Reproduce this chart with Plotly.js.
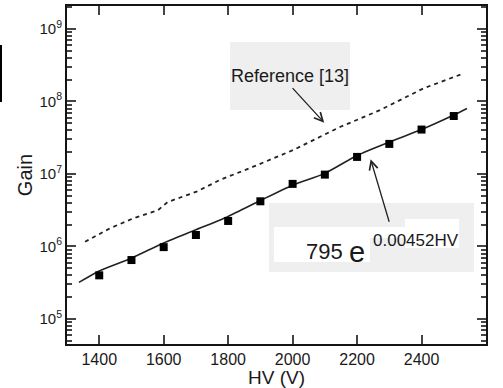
<!DOCTYPE html>
<html>
<head>
<meta charset="utf-8">
<script src="https://cdn.plot.ly/plotly-3.0.1.min.js"></script>
<style>html,body{margin:0;padding:0;background:#fff;}#chart{width:503px;height:388px;}</style>
</head>
<body>
<div id="chart"></div>
<script>
// Measured gain data points
const hv = [1400, 1500, 1600, 1700, 1800, 1900, 2000, 2100, 2200, 2300, 2400, 2500];
const gain = [4.0e5, 6.5e5, 9.8e5, 1.44e6, 2.25e6, 4.2e6, 7.3e6, 9.8e6, 1.72e7, 2.6e7, 4.1e7, 6.3e7];

// Fit curve
const fitHV = [1337, 1400, 1500, 1600, 1700, 1800, 1900, 2000, 2100, 2200, 2300, 2400, 2500, 2541];
const fitGain = [3.2e5, 4.6e5, 6.9e5, 1.12e6, 1.7e6, 2.6e6, 4.3e6, 7.0e6, 1.02e7, 1.8e7, 2.76e7, 4.1e7, 6.5e7, 8.0e7];

// Reference [13] curve
const refHV = [1356, 1433, 1506, 1583, 1612, 1702, 1775, 1878, 2002, 2095, 2147, 2199, 2271, 2405, 2525];
const refGain = [1.16e6, 1.78e6, 2.45e6, 3.18e6, 4.1e6, 5.7e6, 8.3e6, 1.26e7, 2.14e7, 3.45e7, 4.45e7, 5.56e7, 7.6e7, 1.51e8, 2.39e8];

const xTickVals = [1400, 1600, 1800, 2000, 2200, 2400, 2600];
const yTickVals = [1e5, 1e6, 1e7, 1e8, 1e9];
const yTickText = ['10<sup>5</sup>', '10<sup>6</sup>', '10<sup>7</sup>', '10<sup>8</sup>', '10<sup>9</sup>'];
const yMinorVals = [];
[4, 5, 6, 7, 8, 9].forEach(e => { for (let d = 2; d <= 9; d++) yMinorVals.push(d * Math.pow(10, e)); });

const W = 503, H = 388;
const L = 67, R = 486, T = 6, B = 344;
const px = x => (x - L) / (R - L);
const py = y => (B - y) / (B - T);
const FONT = 'Liberation Sans, Arial, Helvetica, sans-serif';
const NARROW = 'Liberation Sans Narrow, Arial Narrow, Liberation Sans, Arial, sans-serif';
const INK = '#1a1a1a';
const TICK = '#444444';
const LINE = '#141414';

const traces = [
  {x: refHV, y: refGain, mode: 'lines', line: {color: '#222', width: 1.8, dash: '4px,4px'}, hoverinfo: 'skip'},
  {x: fitHV, y: fitGain, mode: 'lines', line: {color: '#222', width: 1.6, shape: 'spline', smoothing: 0.6}, hoverinfo: 'skip'},
  {x: hv, y: gain, mode: 'markers', marker: {symbol: 'square', size: 8, color: '#000'}}
];

const rect = (x0, y0, x1, y1, color) => ({type: 'rect', xref: 'paper', yref: 'paper', x0: px(x0), x1: px(x1), y0: py(y1), y1: py(y0), fillcolor: color, line: {width: 0}, layer: 'below'});

const layout = {
  width: W, height: H,
  margin: {l: L, r: W - R, t: T, b: H - B},
  paper_bgcolor: '#fff', plot_bgcolor: '#fff',
  showlegend: false,
  font: {family: FONT, color: INK},
  xaxis: {
    range: [1300, 2600], tickmode: 'array', tickvals: xTickVals, ticks: 'inside', ticklen: 9, tickwidth: 2, tickcolor: TICK,
    showline: true, linewidth: 2, linecolor: LINE, mirror: 'allticks', showgrid: false, zeroline: false, layer: 'above traces',
    tickfont: {size: 16, family: FONT, color: INK},
    title: {text: 'HV (V)', font: {size: 19, family: FONT, color: INK}, standoff: 0}
  },
  yaxis: {
    type: 'log', range: [4.655, 9.317], tickmode: 'array', tickvals: yTickVals, ticktext: yTickText, ticks: 'inside', ticklen: 9, tickwidth: 2, tickcolor: TICK,
    minor: {tickmode: 'array', tickvals: yMinorVals, ticks: 'inside', ticklen: 5, tickwidth: 1.5, tickcolor: TICK, showgrid: false},
    showline: true, linewidth: 2, linecolor: LINE, mirror: 'allticks', showgrid: false, zeroline: false, layer: 'above traces',
    tickfont: {size: 15, family: FONT, color: INK},
    title: {text: 'Gain', font: {size: 20, family: FONT, color: INK}, standoff: 1}
  },
  shapes: [
    rect(230, 42, 350, 110, '#efefef'),
    rect(269, 203, 474, 272, '#efefef'),
    rect(274, 227, 370, 262, '#ffffff'),
    rect(274, 227, 448, 238, '#ffffff'),
    rect(405, 219, 459, 248, '#ffffff'),
    rect(0, 45, 2, 102, '#000000')
  ],
  annotations: [
    {xref: 'paper', yref: 'paper', x: px(290), y: py(76), text: 'Reference [13]', showarrow: false, font: {size: 18, family: NARROW, color: INK}, xanchor: 'center', yanchor: 'middle'},
    {x: 2098, y: 7.708, xref: 'x', yref: 'y', showarrow: true, arrowhead: 5, arrowsize: 1.3, arrowwidth: 1.3, arrowcolor: '#222', ax: -33, ay: -36, text: ''},
    {x: 2242, y: 7.203, xref: 'x', yref: 'y', showarrow: true, arrowhead: 5, arrowsize: 1.3, arrowwidth: 1.3, arrowcolor: '#222', ax: 19, ay: 64, text: ''},
    {xref: 'paper', yref: 'paper', x: px(345), y: py(251), text: '795', showarrow: false, font: {size: 22, family: NARROW, color: INK}, xanchor: 'right', yanchor: 'middle'},
    {xref: 'paper', yref: 'paper', x: px(347), y: py(252), text: 'e', showarrow: false, font: {size: 29, family: FONT, color: INK}, xanchor: 'left', yanchor: 'middle'},
    {xref: 'paper', yref: 'paper', x: px(371), y: py(240), text: '0.00452HV', showarrow: false, font: {size: 17, family: FONT, color: INK}, xanchor: 'left', yanchor: 'middle'}
  ]
};

Plotly.newPlot('chart', traces, layout, {displayModeBar: false});
</script>
</body>
</html>
